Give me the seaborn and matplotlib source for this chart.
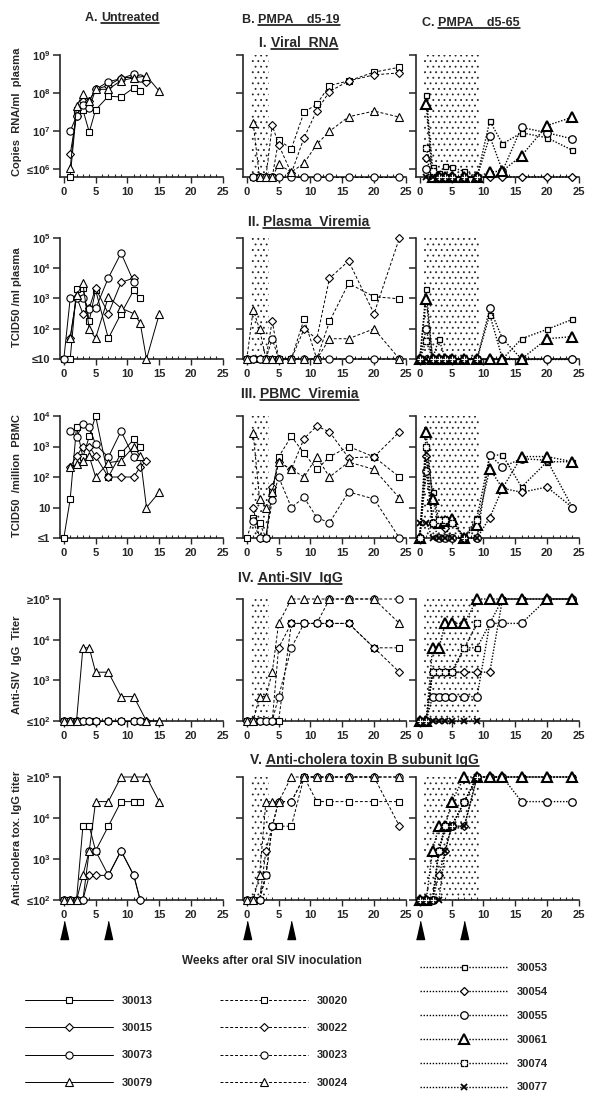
import numpy as np
import pandas as pd
import seaborn as sns
import matplotlib.pyplot as plt
from matplotlib.lines import Line2D
from matplotlib.ticker import NullLocator
from matplotlib.legend_handler import HandlerTuple

sns.set_style('ticks')
plt.rcParams['font.family'] = ['Liberation Sans', 'DejaVu Sans']
plt.rcParams['font.weight'] = 'bold'
plt.rcParams['mathtext.fontset'] = 'custom'
plt.rcParams['mathtext.rm'] = 'Liberation Sans:bold'
plt.rcParams['mathtext.bf'] = 'Liberation Sans:bold'
plt.rcParams['mathtext.default'] = 'bf'
plt.rcParams['hatch.linewidth'] = 0.6

nan = np.nan

# weeks after inoculation
weeks_A = [0, 1, 2, 3, 4, 5, 7, 9, 11, 12, 13, 15]
weeks_BC = [0, 1, 2, 3, 4, 5, 7, 9, 11, 13, 16, 20, 24]

# PMPA treatment windows (weeks)
pmpa_B = (0.7, 3.5)
pmpa_C = (0.7, 9.3)
boost_weeks = [0, 7]

# all values are log10
# I. viral RNA (copies/ml), floor = 5.8 (<=10^6)
rna_A = {
    '30013': [nan, 5.8, 7.55, 7.56, 6.98, 7.56, 7.92, 7.9, 8.14, 8.05, nan, nan],
    '30015': [nan, 6.4, 7.4, 7.8, 7.8, 8.1, 8.2, 8.4, 8.42, nan, 8.3, nan],
    '30073': [nan, 7.0, 7.4, 7.7, 7.6, 8.1, 8.3, 8.38, 8.5, 8.4, nan, nan],
    '30079': [nan, 6.03, 7.65, 7.98, 7.8, 8.1, 8.1, 8.33, 8.4, nan, 8.45, 8.05],
}
rna_B = {
    '30020': [nan, 5.8, 5.8, 5.8, 5.8, 6.77, 6.54, 7.5, 7.71, 8.2, 8.32, 8.55, 8.68],
    '30022': [nan, 5.8, 5.8, 5.8, 7.16, 6.65, 5.9, 6.83, 7.54, 8.04, 8.32, 8.48, 8.53],
    '30023': [nan, 5.8, 5.8, 5.8, 5.8, 5.8, 5.8, 5.8, 5.8, 5.8, 5.8, 5.8, 5.8],
    '30024': [nan, 7.21, 5.8, 5.8, 5.8, 6.13, 5.93, 6.16, 6.66, 7.0, 7.38, 7.53, 7.37],
}
rna_C = {
    '30053': [nan, 7.94, 6.05, 5.9, 6.1, 6.05, 5.95, 5.8, 7.27, 6.67, 6.96, 6.83, 6.5],
    '30054': [nan, 6.3, 5.8, 5.8, 5.8, 5.8, 5.8, 5.8, 5.8, 5.8, 5.8, 5.8, 5.8],
    '30055': [nan, 6.0, 5.8, 5.8, 5.8, 5.8, 5.8, 5.8, 6.87, 5.96, 7.1, 6.96, 6.8],
    '30061': [nan, 7.72, 5.8, 5.8, 5.8, 5.8, 5.8, 5.8, 5.93, 5.96, 6.36, 7.15, 7.37],
    '30074': [nan, 6.55, 5.95, 5.8, 5.8, 5.8, 5.8, 5.8, nan, nan, nan, nan, nan],
    '30077': [nan, 5.8, 5.8, 5.8, 5.8, 5.8, 5.8, 5.8, nan, nan, nan, nan, nan],
}

# II. plasma viremia (TCID50/ml), floor = 1 (<=10)
plasma_A = {
    '30013': [1, 1, 3.31, 3.34, 2.26, 3.28, 1.68, 2.5, 3.28, 3.0, nan, nan],
    '30015': [nan, 1.69, 3.05, 2.5, 2.68, 3.34, 2.5, 3.53, 3.68, nan, nan, nan],
    '30073': [1, 3.0, 3.0, 3.0, 2.64, 2.67, 3.68, 4.5, 3.55, nan, nan, nan],
    '30079': [nan, 1.69, 3.1, 3.5, 1.98, 1.69, 3.05, 2.68, 2.5, 2.2, 1.0, 2.48],
}
plasma_B = {
    '30020': [1, 1, 1, 1, 1, 1, 1, 2.32, 1.0, 2.24, 3.5, 3.06, 2.99],
    '30022': [1, 1, 1, 1, 2.27, 1, 1, 1.99, 1.67, 3.67, 4.24, 2.5, 5.0],
    '30023': [1, 1, 1, 1, 1.67, 1, 1, 1, 1, 1, 1, 1, 1],
    '30024': [1, 2.63, 1.99, 1, 1, 1, 1, 1, 1, 1.67, 1.67, 2.0, 1],
}
plasma_C = {
    '30053': [1, 3.31, 1, 1.67, 1, 1, 1, 1, 2.47, 1, 1.67, 1.98, 2.31],
    '30054': [1, 1, 1, 1, 1, 1, 1, 1, 1, 1, 1, 1, 1],
    '30055': [1, 2.0, 1, 1, 1, 1, 1, 1, 2.67, 1.67, 1, 1, 1],
    '30061': [1, 2.98, 1, 1, 1, 1, 1, 1, 1, 1, 1, 1.67, 1.74],
    '30074': [1, 1.6, 1, 1, 1, 1, 1, 1, nan, nan, nan, nan, nan],
    '30077': [1, 1, 1, 1, 1, 1, 1, 1, nan, nan, nan, nan, nan],
}

# III. PBMC viremia (TCID50/million PBMC), floor = 0 (<=1)
pbmc_A = {
    '30013': [0, 1.27, 3.64, 2.65, 3.33, 4.0, 2.0, 2.78, 3.23, 3.0, nan, nan],
    '30015': [nan, 2.33, 2.68, 3.0, 3.0, 2.68, 2.0, 2.0, 2.0, 2.33, 2.53, nan],
    '30073': [nan, 3.5, 3.3, 3.75, 3.64, 3.07, 2.65, 3.5, 2.65, nan, nan, nan],
    '30079': [nan, 2.33, 2.41, 2.53, 2.68, 2.0, 2.47, 2.53, 3.0, 2.68, 1.0, 1.5],
}
pbmc_B = {
    '30020': [0, 0.64, 0.5, 0, 1.52, 2.66, 3.33, 2.78, 2.25, 2.66, 3.0, 2.66, 2.0],
    '30022': [nan, 1.0, 0, 0, 1.66, 2.49, 2.25, 3.26, 3.67, 3.48, 2.63, 2.66, 3.48],
    '30023': [nan, 0.55, 0, 0, 1.25, 2.0, 1.0, 1.33, 0.67, 0.5, 1.51, 1.28, 0],
    '30024': [nan, 3.45, 1.29, 1.0, 1.5, 2.49, 2.25, 2.0, 2.66, 2.0, 2.49, 2.25, 1.31],
}
pbmc_C = {
    '30053': [0, 3.0, 1.5, 0.6, 0.55, 0.6, 0, 0.67, 2.72, 2.72, 1.67, 2.5, 2.5],
    '30054': [0, 2.7, 0.5, 0.5, 0.33, 0, 0, 0, 0.67, 1.63, 1.5, 1.67, 1.0],
    '30055': [0, 2.2, 0.5, 0, 0, 0, 0, 0, 2.72, 2.33, 2.6, 2.55, 1.0],
    '30061': [0, 3.48, 1.28, 0.5, 0.55, 0.63, 0, 0.44, 2.27, 1.63, 2.67, 2.67, 2.5],
    '30074': [0, 3.0, 0.5, 0.6, 0.6, 0.5, 0, 0.6, nan, nan, nan, nan, nan],
    '30077': [0.5, 0.5, 0, 0, 0, 0, 0, 0, nan, nan, nan, nan, nan],
}

# IV. anti-SIV IgG titer, floor = 2 (<=10^2), ceiling 5 (>=10^5)
siv_A = {
    '30013': [2, 2, 2, 2, 2, 2, 2, 2, 2, 2, nan, nan],
    '30015': [2, 2, 2, 2, 2, 2, 2, 2, 2, 2, 2, nan],
    '30073': [2, 2, 2, 2, 2, 2, 2, 2, 2, 2, nan, nan],
    '30079': [2, 2, 2, 3.8, 3.8, 3.2, 3.2, 2.6, 2.6, nan, 2, 2],
}
siv_B = {
    '30020': [2, 2, 2, 2, 2, 2, 4.4, 4.4, 4.4, 4.4, 4.4, 3.8, 3.8],
    '30022': [2, 2, 2, 2, 2, 3.8, 4.4, 4.4, 4.4, 4.4, 4.4, 3.8, 3.2],
    '30023': [2, 2, 2, 2, 2, 2.6, 3.8, 4.4, 4.4, 5, 5, 5, 5],
    '30024': [2, 2, 2.6, 2.6, 3.2, 4.4, 5, 5, 5, 5, 5, 5, 4.4],
}
siv_C = {
    '30053': [2, 2, 3.2, 3.2, 3.2, 3.2, 3.8, 3.8, 4.4, 5, 5, 5, 5],
    '30054': [2, 2, 3.2, 3.2, 3.2, 3.2, 3.2, 3.2, 3.2, 5, 5, 5, 5],
    '30055': [2, 2, 2.6, 2.6, 2.6, 2.6, 2.6, 2.6, 4.4, 4.4, 4.4, 5, 5],
    '30061': [2, 2, 3.8, 3.8, 4.4, 4.4, 4.4, 5, 5, 5, 5, 5, 5],
    '30074': [2, 2, 3.2, 3.2, 3.2, 3.2, 3.8, 4.4, nan, nan, nan, nan, nan],
    '30077': [2, 2, 2, 2, 2, 2, 2, 2, nan, nan, nan, nan, nan],
}

# V. anti-cholera toxin B subunit IgG titer
ctb_A = {
    '30013': [2, 2, 2, 3.8, 3.8, 3.2, 3.8, 4.4, 4.4, 4.4, nan, nan],
    '30015': [2, 2, 2, 2, 2.6, 2.6, 2.6, 3.2, 2.6, 2.0, nan, nan],
    '30073': [2, 2, 2, 2, 3.2, 3.2, 2.6, 3.2, 2.6, 2.0, nan, nan],
    '30079': [2, 2, 2, 2.6, 3.2, 4.4, 4.4, 5, 5, nan, 5, 4.4],
}
ctb_B = {
    '30020': [2, 2, 2, 2.6, 3.8, 3.8, 3.8, 5, 4.4, 4.4, 4.4, 4.4, 4.4],
    '30022': [2, 2, 2, 3.2, 3.8, 4.4, 4.4, 5, 5, 5, 5, 5, 3.8],
    '30023': [2, 2, 2, 2.6, 3.8, 4.4, 4.4, 5, 5, 5, 5, 5, 5],
    '30024': [2, 2, 2.6, 4.4, 4.4, 4.4, 5, 5, 5, 5, 5, 5, 5],
}
ctb_C = {
    '30053': [2, 2, 2, 3.2, 3.8, 3.8, 4.4, 5, 5, 5, 5, 5, 5],
    '30054': [2, 2, 2, 2.6, 3.2, 3.8, 3.8, 5, 5, 5, 5, 5, 5],
    '30055': [2, 2, 2, 3.2, 3.8, 3.8, 4.4, 5, 5, 5, 4.4, 4.4, 4.4],
    '30061': [2, 2, 3.2, 3.8, 3.8, 4.4, 5, 5, 5, 5, 5, 5, 5],
    '30074': [2, 2, 2, 3.2, 3.8, 3.8, 4.4, 5, nan, nan, nan, nan, nan],
    '30077': [2, 2, 2, 2, 3.2, 3.8, 3.8, 5, nan, nan, nan, nan, nan],
}

marker_style = {
    '30013': ('s', 5.0, 0.8), '30015': ('D', 3.6, 0.8),
    '30073': ('o', 5.2, 0.8), '30079': ('^', 5.5, 0.8),
    '30020': ('s', 5.0, 0.8), '30022': ('D', 3.6, 0.8),
    '30023': ('o', 5.2, 0.8), '30024': ('^', 5.5, 0.8),
    '30053': ('s', 3.6, 0.9), '30054': ('D', 3.6, 0.9),
    '30055': ('o', 5.4, 0.9), '30061': ('^', 6.5, 1.5),
    '30074': ('s', 4.2, 0.9), '30077': ('x', 4.2, 1.3),
}

W, H = 616, 1109
fig = plt.figure(figsize=(W / 100, H / 100), dpi=100)

col_left = [60, 243, 416]
col_width = 166
rows = [
    dict(top=55, bottom=177, lo=5.8, hi=9.0, ticks=[6, 7, 8, 9],
         labels=['≤$10^{6}$', '$10^{7}$', '$10^{8}$', '$10^{9}$'],
         ylabel='Copies  RNA/ml  plasma', yl=112,
         data=[rna_A, rna_B, rna_C], title=('I. ', 'Viral  RNA'), tx=259, ty=43),
    dict(top=238, bottom=359, lo=1.0, hi=5.0, ticks=[1, 2, 3, 4, 5],
         labels=['≤10', '$10^{2}$', '$10^{3}$', '$10^{4}$', '$10^{5}$'],
         ylabel='TCID50 /ml plasma', yl=297,
         data=[plasma_A, plasma_B, plasma_C], title=('II. ', 'Plasma  Viremia'), tx=248, ty=222),
    dict(top=416, bottom=538, lo=0.0, hi=4.0, ticks=[0, 1, 2, 3, 4],
         labels=['≤1', '10', '$10^{2}$', '$10^{3}$', '$10^{4}$'],
         ylabel='TCID50  /million  PBMC', yl=476,
         data=[pbmc_A, pbmc_B, pbmc_C], title=('III. ', 'PBMC  Viremia'), tx=241, ty=394),
    dict(top=599, bottom=721, lo=2.0, hi=5.0, ticks=[2, 3, 4, 5],
         labels=['≤$10^{2}$', '$10^{3}$', '$10^{4}$', '≥$10^{5}$'],
         ylabel='Anti-SIV  IgG  Titer', yl=665,
         data=[siv_A, siv_B, siv_C], title=('IV. ', 'Anti-SIV  IgG'), tx=238, ty=578),
    dict(top=777, bottom=900, lo=2.0, hi=5.0, ticks=[2, 3, 4, 5],
         labels=['≤$10^{2}$', '$10^{3}$', '$10^{4}$', '≥$10^{5}$'],
         ylabel='Anti-cholera tox. IgG titer', yl=838,
         data=[ctb_A, ctb_B, ctb_C], title=('V. ', 'Anti-cholera toxin B subunit IgG'),
         tx=250, ty=760),
]
col_weeks = [weeks_A, weeks_BC, weeks_BC]
col_ls = ['-', (0, (3, 2)), (0, (1, 1.2))]
col_lw = [0.7, 0.7, 1.0]
col_span = [None, pmpa_B, pmpa_C]

handles = {}


def plot_panel(ax, weeks, table, ls, lw):
    for animal, vals in table.items():
        df = pd.DataFrame({'week': weeks, 'value': np.power(10.0, vals)}).dropna()
        mk, ms, mew = marker_style[animal]
        sns.lineplot(data=df, x='week', y='value', ax=ax, estimator=None, sort=False,
                     color='black', linestyle=ls, lw=lw, marker=mk, markersize=ms,
                     markerfacecolor='white', markeredgecolor='black', markeredgewidth=mew,
                     clip_on=False, zorder=3, legend=False, label=animal)
        h = ax.lines[-1]
        if animal == '30074':
            sns.lineplot(data=df, x='week', y='value', ax=ax, estimator=None, sort=False,
                         color='black', linestyle='none', marker='+', markersize=ms,
                         markeredgewidth=0.8, clip_on=False, zorder=4, legend=False)
            h = (h, ax.lines[-1])
        handles[animal] = h


for r, row in enumerate(rows):
    for c in range(3):
        ax = fig.add_axes([col_left[c] / W, 1 - row['bottom'] / H, col_width / W,
                           (row['bottom'] - row['top']) / H])
        if col_span[c] is not None:
            ax.axvspan(*col_span[c], facecolor='white', edgecolor='0.15', hatch='...',
                       lw=0, zorder=0)
        plot_panel(ax, col_weeks[c], row['data'][c], col_ls[c], col_lw[c])
        ax.set_yscale('log')
        ax.set_xlim(-0.6, 25.5)
        ax.set_ylim(10 ** row['lo'], 10 ** row['hi'])
        ax.set_yticks([10.0 ** t for t in row['ticks']])
        ax.yaxis.set_minor_locator(NullLocator())
        if c == 0:
            ax.set_yticklabels(row['labels'], fontsize=8, fontweight='bold')
        else:
            ax.set_yticklabels([])
        ax.set_xticks(range(0, 26, 5))
        ax.set_xticks(range(0, 26), minor=True)
        ax.set_xticklabels([str(v) for v in range(0, 26, 5)], fontsize=8, fontweight='bold')
        ax.tick_params(axis='y', which='major', length=5, width=1.1, pad=2)
        ax.tick_params(axis='x', which='major', length=4, width=1.0, pad=3)
        ax.tick_params(axis='x', which='minor', length=2.5, width=0.8, direction='in')
        ax.set_xlabel('')
        ax.set_ylabel('')
        for s in ['top', 'right']:
            ax.spines[s].set_visible(False)
        ax.spines['left'].set_linewidth(1.2)
        ax.spines['bottom'].set_linewidth(1.2)
        ax.spines['bottom'].set_bounds(-0.6, 25)
        if r == 4:
            ax.plot(boost_weeks, [-0.24] * len(boost_weeks), transform=ax.get_xaxis_transform(),
                    ls='none', marker=[(-0.45, -1), (0.45, -1), (0, 1)], ms=13,
                    color='black', clip_on=False)
    fig.text(17 / W, 1 - row['yl'] / H, row['ylabel'], rotation=90, ha='center', va='center',
             fontsize=8, fontweight='bold')

renderer = fig.canvas.get_renderer()
inv = fig.transFigure.inverted()


def underlined(x_px, y_px, prefix, body, size):
    t1 = fig.text(x_px / W, 1 - y_px / H, prefix, fontsize=size, fontweight='bold',
                  ha='left', va='center')
    bb = t1.get_window_extent(renderer)
    x1 = inv.transform((bb.x1, 0))[0]
    t2 = fig.text(x1, 1 - y_px / H, body, fontsize=size, fontweight='bold',
                  ha='left', va='center')
    bb2 = t2.get_window_extent(renderer)
    (xa, ya), (xb, _) = inv.transform([(bb2.x0, bb2.y0 + 1), (bb2.x1, bb2.y0 + 1)])
    fig.add_artist(Line2D([xa, xb], [ya, ya], lw=1.1, color='black'))


underlined(85, 18, 'A. ', 'Untreated', 9)
underlined(242, 20, 'B. ', 'PMPA    d5-19', 9)
underlined(422, 23, 'C. ', 'PMPA    d5-65', 9)
for row in rows:
    underlined(row['tx'], row['ty'], row['title'][0], row['title'][1], 10)

fig.text(272 / W, 1 - 961 / H, 'Weeks after oral SIV inoculation', ha='center', va='center',
         fontsize=8.5, fontweight='bold')

legend_cols = [
    (['30013', '30015', '30073', '30079'], 25, 996, 1.55),
    (['30020', '30022', '30023', '30024'], 220, 996, 1.55),
    (['30053', '30054', '30055', '30061', '30074', '30077'], 420, 963, 1.25),
]
for ids, x_px, y_px, spacing in legend_cols:
    fig.legend(handles=[handles[i] for i in ids], labels=ids, loc='upper left',
               bbox_to_anchor=(x_px / W, 1 - y_px / H), frameon=False, fontsize=8,
               handlelength=7.9, handletextpad=0.8, labelspacing=spacing, borderpad=0,
               borderaxespad=0, numpoints=1, handler_map={tuple: HandlerTuple(ndivide=1)})

fig.savefig('out.png', dpi=100)
